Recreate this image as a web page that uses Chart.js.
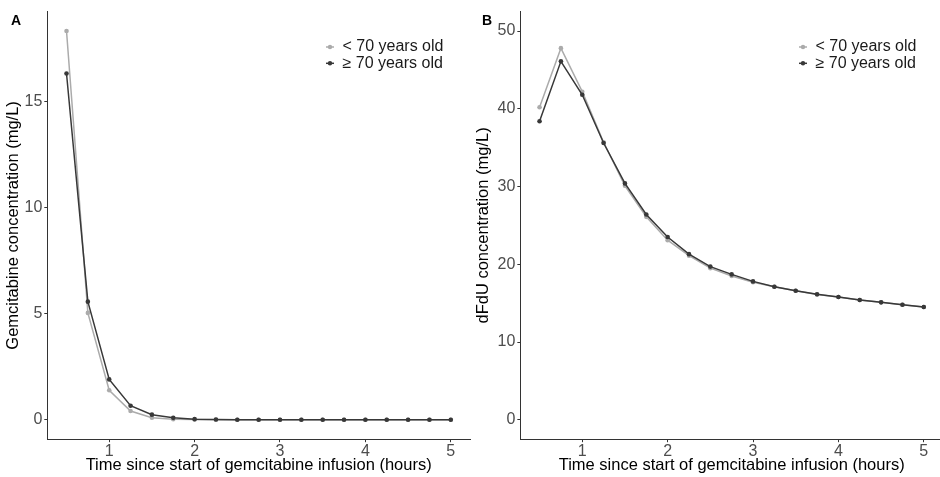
<!DOCTYPE html>
<html><head><meta charset="utf-8">
<script src="https://cdn.jsdelivr.net/npm/chart.js@4.4.1/dist/chart.umd.min.js"></script>
<style>
html,body{margin:0;padding:0;background:#fff;overflow:hidden;width:940px;height:477px;}
#wrap{position:relative;width:940px;height:477px;overflow:hidden;background:#fff;}
.panel{position:absolute;top:0;height:477px;}
#pa{left:0;width:474px;}
#pb{left:470px;width:477px;}
.tag{position:absolute;font:bold 14px "Liberation Sans",Arial,sans-serif;color:#000;line-height:normal;}
</style></head>
<body><div id="wrap">
<div class="panel" id="pa"><canvas id="ca"></canvas></div>
<div class="panel" id="pb"><canvas id="cb"></canvas></div>
<div class="tag" style="left:11px;top:12px">A</div>
<div class="tag" style="left:482px;top:12px">B</div>
</div>
<script>
// ---- data ----
const times = [0.5, 0.75, 1, 1.25, 1.5, 1.75, 2, 2.25, 2.5, 2.75, 3, 3.25, 3.5, 3.75, 4, 4.25, 4.5, 4.75, 5];
const seriesLabels = ['< 70 years old', '\u2265 70 years old'];
const gemUnder70 = [18.3, 5.03, 1.39, 0.41, 0.10, 0.03, 0.01, 0, 0, 0, 0, 0, 0, 0, 0, 0, 0, 0, 0];
const gemOver70  = [16.3, 5.56, 1.90, 0.66, 0.24, 0.09, 0.03, 0.01, 0, 0, 0, 0, 0, 0, 0, 0, 0, 0, 0];
const dfduUnder70 = [40.2, 47.8, 42.2, 35.7, 30.1, 26.1, 23.1, 21.1, 19.5, 18.5, 17.7, 17.1, 16.6, 16.1, 15.8, 15.4, 15.1, 14.8, 14.5];
const dfduOver70  = [38.4, 46.1, 41.8, 35.6, 30.4, 26.4, 23.5, 21.3, 19.7, 18.7, 17.8, 17.1, 16.6, 16.15, 15.8, 15.4, 15.1, 14.8, 14.5];
const xTicks = [1, 2, 3, 4, 5];
const yTicksA = [0, 5, 10, 15];
const yTicksB = [0, 10, 20, 30, 40, 50];
const xTitle = 'Time since start of gemcitabine infusion (hours)';
const yTitleA = 'Gemcitabine concentration (mg/L)';
const yTitleB = 'dFdU concentration (mg/L)';

// ---- style ----
const FONT = '"Liberation Sans", Arial, Helvetica, sans-serif';
const lightC = '#ababab';
const darkC = '#383838';

const legendPlugin = {
  id: 'insideLegend',
  afterDraw(chart) {
    const ctx = chart.ctx, ca = chart.chartArea;
    const ds = chart.data.datasets;
    ctx.save();
    ds.forEach((d, i) => {
      const y = 47 + i * 16.3;
      const mx = ca.right - 140;
      ctx.strokeStyle = d.borderColor; ctx.lineWidth = 1.5;
      ctx.beginPath(); ctx.moveTo(mx - 4, y); ctx.lineTo(mx + 4, y); ctx.stroke();
      ctx.fillStyle = d.borderColor;
      ctx.beginPath(); ctx.arc(mx, y, 2.2, 0, Math.PI * 2); ctx.fill();
      ctx.fillStyle = '#1a1a1a';
      ctx.font = '16px ' + FONT;
      ctx.textBaseline = 'middle'; ctx.textAlign = 'left';
      ctx.fillText(d.label, ca.right - 127.5, y);
    });
    ctx.restore();
  }
};

function makeChart(id, under, over, yTicks, yMin, yMax, yTitle, yWidth, padRight) {
  const mk = (vals) => times.map((t, i) => ({x: t, y: vals[i]}));
  const common = {fill: false, borderWidth: 1.5, pointRadius: 2.3, pointBorderWidth: 0, tension: 0};
  return new Chart(document.getElementById(id), {
    type: 'line',
    data: {datasets: [
      Object.assign({label: seriesLabels[0], data: mk(under), borderColor: lightC, backgroundColor: lightC, pointBackgroundColor: lightC, order: 1}, common),
      Object.assign({label: seriesLabels[1], data: mk(over), borderColor: darkC, backgroundColor: darkC, pointBackgroundColor: darkC, order: 0}, common)
    ]},
    options: {
      responsive: true, maintainAspectRatio: false, animation: false,
      layout: {padding: {left: 0, top: 10.6, right: padRight, bottom: 0}},
      plugins: {legend: {display: false}, tooltip: {enabled: false}},
      scales: {
        x: {
          type: 'linear', min: 0.275, max: 5.225,
          afterBuildTicks: s => { s.ticks = xTicks.map(v => ({value: v})); },
          afterFit: s => { s.height = 37.8; },
          grid: {display: true, drawOnChartArea: false, drawTicks: true, tickLength: 3, color: '#333', lineWidth: 1},
          border: {display: true, color: '#333', width: 1},
          ticks: {color: '#4d4d4d', font: {family: FONT, size: 16}, padding: 0, maxRotation: 0, autoSkip: false},
          title: {display: true, text: xTitle, color: '#000', font: {family: FONT, size: 16.5}, padding: {top: 0, bottom: 1.5}}
        },
        y: {
          type: 'linear', min: yMin, max: yMax,
          afterBuildTicks: s => { s.ticks = yTicks.map(v => ({value: v})); },
          afterFit: s => { s.width = yWidth; },
          grid: {display: true, drawOnChartArea: false, drawTicks: true, tickLength: 3, color: '#333', lineWidth: 1},
          border: {display: true, color: '#333', width: 1},
          ticks: {color: '#4d4d4d', font: {family: FONT, size: 16}, padding: 2},
          title: {display: true, text: yTitle, color: '#000', font: {family: FONT, size: 16.5}, padding: {top: 4, bottom: 0}}
        }
      }
    },
    plugins: [legendPlugin]
  });
}

makeChart('ca', gemUnder70, gemOver70, yTicksA, -0.915, 19.215, yTitleA, 47.3, 0.75);
makeChart('cb', dfduUnder70, dfduOver70, yTicksB, -2.5, 52.5, yTitleB, 50.35, 0.7);
</script>
</body></html>
